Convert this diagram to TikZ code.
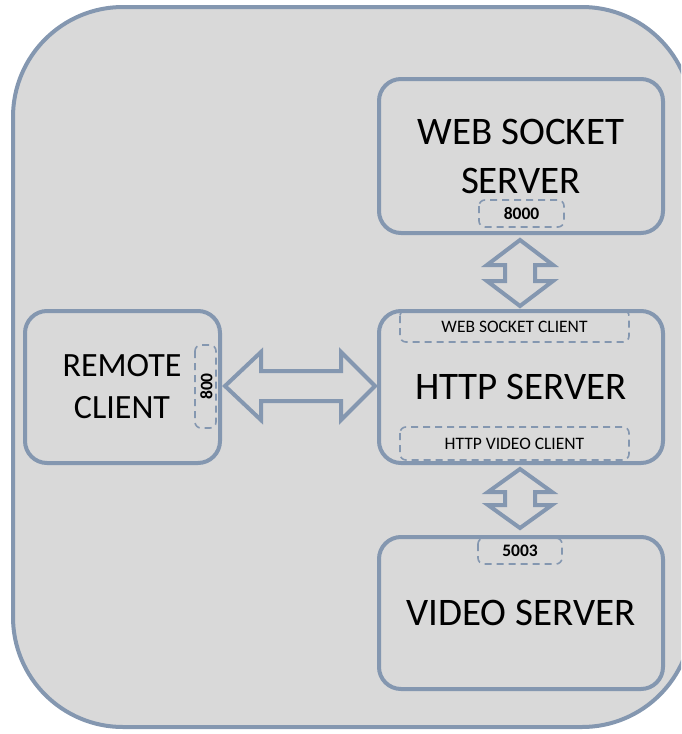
\documentclass[tikz,border=0pt]{standalone}
\usepackage{fontspec}
\setmainfont{Carlito}
\definecolor{edge}{HTML}{8497B0}
\definecolor{panel}{HTML}{D9D9D9}
\tikzset{
  block/.style={draw=edge, fill=panel, line width=4pt, rounded corners=22pt},
  port/.style={draw=edge, dashed, dash pattern=on 7pt off 5pt, line width=1.6pt, rounded corners=6pt},
  bigtext/.style={font=\fontsize{39}{47}\selectfont, align=center, inner sep=0pt},
  smalltext/.style={font=\fontsize{17.5}{21}\selectfont, inner sep=0pt},
  porttext/.style={font=\bfseries\fontsize{17.5}{21}\selectfont, inner sep=0pt},
  blockarrow/.style={draw=edge, fill=panel, line width=4pt, line join=miter}
}
\begin{document}
\begin{tikzpicture}[x=1pt,y=-1pt]
  \useasboundingbox (0,0) rectangle (681,734);
  \clip (0,0) rectangle (681,734);
  \fill[white] (0,0) rectangle (681,734);
  % enclosing panel
  \draw[draw=edge, fill=panel, line width=4pt, rounded corners=110pt] (13,7) rectangle (692,727);

  % blocks
  \draw[block] (379,79) rectangle (663,233);
  \coordinate (wss) at (521,156);
  \draw[block] (379,311) rectangle (663,463);
  \coordinate (http) at (521,387);
  \draw[block] (379,537) rectangle (663,689);
  \coordinate (vid) at (521,613);
  \draw[block] (25,311) rectangle (220,463);
  \coordinate (rc) at (122,387);

  % ports and sub-clients
  \draw[port] (479,200) rectangle (564,227);
  \draw[port] (400,310) rectangle (629,342);
  \draw[port] (400,427) rectangle (629,460);
  \draw[port] (478,538) rectangle (562,564);
  \draw[port] (195,345) rectangle (216,428);

  % labels
  \node[bigtext, font=\fontsize{39}{49}\selectfont] (wsslabel) at (wss) {WEB SOCKET\\SERVER};
  \node[bigtext] (httplabel) at (http) {HTTP SERVER};
  \node[bigtext] (vidlabel) at (vid) {VIDEO SERVER};
  \node[bigtext, font=\fontsize{34}{42}\selectfont] (rclabel) at (rc) {REMOTE\\CLIENT};
  \node[porttext] (p8000) at (521.5,214) {8000};
  \node[porttext] (p5003) at (520,551) {5003};
  \node[porttext, rotate=90] (p800) at (206.5,386.5) {800};
  \node[smalltext] (wsc) at (514.5,326.5) {WEB SOCKET CLIENT};
  \node[smalltext] (hvc) at (514.5,443.5) {HTTP VIDEO CLIENT};

  % block arrows between components
  \draw[blockarrow] (225,386) -- (261,352) -- (261,371) -- (341,371) -- (341,352)
    -- (375,386) -- (341,420) -- (341,401) -- (261,401) -- (261,420) -- cycle;
  \draw[blockarrow] (520,240) -- (553,265) -- (535,265) -- (535,281) -- (553,281)
    -- (520,306) -- (487,281) -- (505,281) -- (505,265) -- (487,265) -- cycle;
  \draw[blockarrow] (520,469) -- (552,492) -- (535,492) -- (535,505) -- (552,505)
    -- (520,528) -- (488,505) -- (505,505) -- (505,492) -- (488,492) -- cycle;
\end{tikzpicture}
\end{document}
